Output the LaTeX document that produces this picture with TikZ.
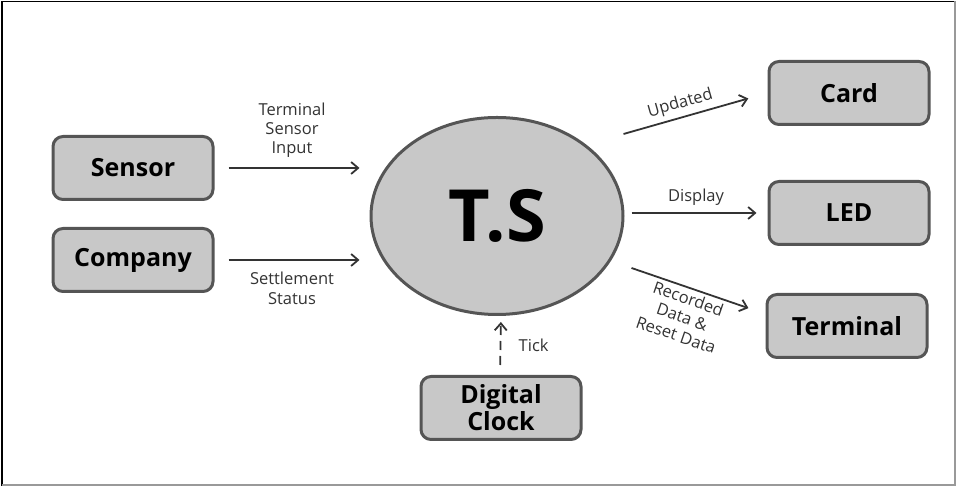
\documentclass[tikz,border=0pt]{standalone}
\usepackage{fontspec}
\setmainfont{Open Sans}
\usetikzlibrary{arrows.meta,shapes.geometric}

\tikzset{every picture/.style={line width=0.75pt}}
\definecolor{boxgray}{RGB}{200,200,200}
\definecolor{edgegray}{RGB}{85,85,85}
\definecolor{arrowgray}{RGB}{51,51,51}

\begin{document}
\begin{tikzpicture}[x=1pt,y=1pt,
		block/.style={draw=edgegray,line width=3pt,fill=boxgray,rounded corners=10pt,minimum width=160pt,minimum height=63pt,align=center,font=\fontsize{25}{27}\selectfont\bfseries},
		flow/.style={draw=arrowgray,line width=1.8pt,-{Straight Barb[length=7pt,width=12pt]}},
		lbl/.style={font=\fontsize{16.5}{20}\selectfont,align=center,text=arrowgray}]
				\useasboundingbox (0,0) rectangle (956,486);
				\draw[black,line width=1.8pt] (2,0)--(2,484.5)--(956,484.5); %frame
				\draw[gray!80,line width=1.5pt] (2,1)--(955,1)--(955,484.5);
				\node[ellipse,draw=edgegray,line width=3pt,fill=boxgray,minimum width=252pt,minimum height=197pt,font=\fontsize{72}{80}\selectfont\bfseries] (ts) at (497,270) {T.S};
				\node[block] (sensor) at (133,318) {Sensor};
				\node[block] (company) at (133,226) {Company};
				\node[block] (card) at (849,393) {Card};
				\node[block] (led) at (849,273) {LED};
				\node[block] (terminal) at (847,160) {Terminal};
				\node[block] (clock) at (501,78) {Digital\\Clock};
				% inputs
				\draw[flow,shorten <=14pt,shorten >=10pt] (sensor.east)--(sensor.east -| ts.west)node[lbl,midway,above=6pt,font=\fontsize{16.5}{19}\selectfont]{Terminal\\Sensor\\Input};
				\draw[flow,shorten <=14pt,shorten >=10pt] (company.east)--(company.east -| ts.west)node[lbl,midway,below=8pt]{Settlement\\Status};
				% outputs
				\draw[flow,shorten >=20pt] ([shift={(-1,82)}]ts.east)--(card.west)node[lbl,pos=0.42,above=1pt,sloped]{Updated};
				\draw[flow,shorten <=7pt,shorten >=11pt] (ts.east |- led.west)--(led.west)node[lbl,midway,above=3pt]{Display};
				\draw[flow,shorten >=18pt] ([shift={(7,-52)}]ts.east)--([yshift=12pt]terminal.west)node[lbl,pos=0.45,below=0pt,sloped,font=\fontsize{16.5}{19}\selectfont]{Recorded\\Data \&\\Reset Data};
				% clock
				\draw[flow,dash pattern=on 9pt off 6pt,shorten <=10pt,shorten >=6pt] ([xshift=-1pt]clock.north)--(clock.north |- ts.south)node[lbl,pos=0.5,right=14pt]{Tick};
			\end{tikzpicture}
\end{document}
